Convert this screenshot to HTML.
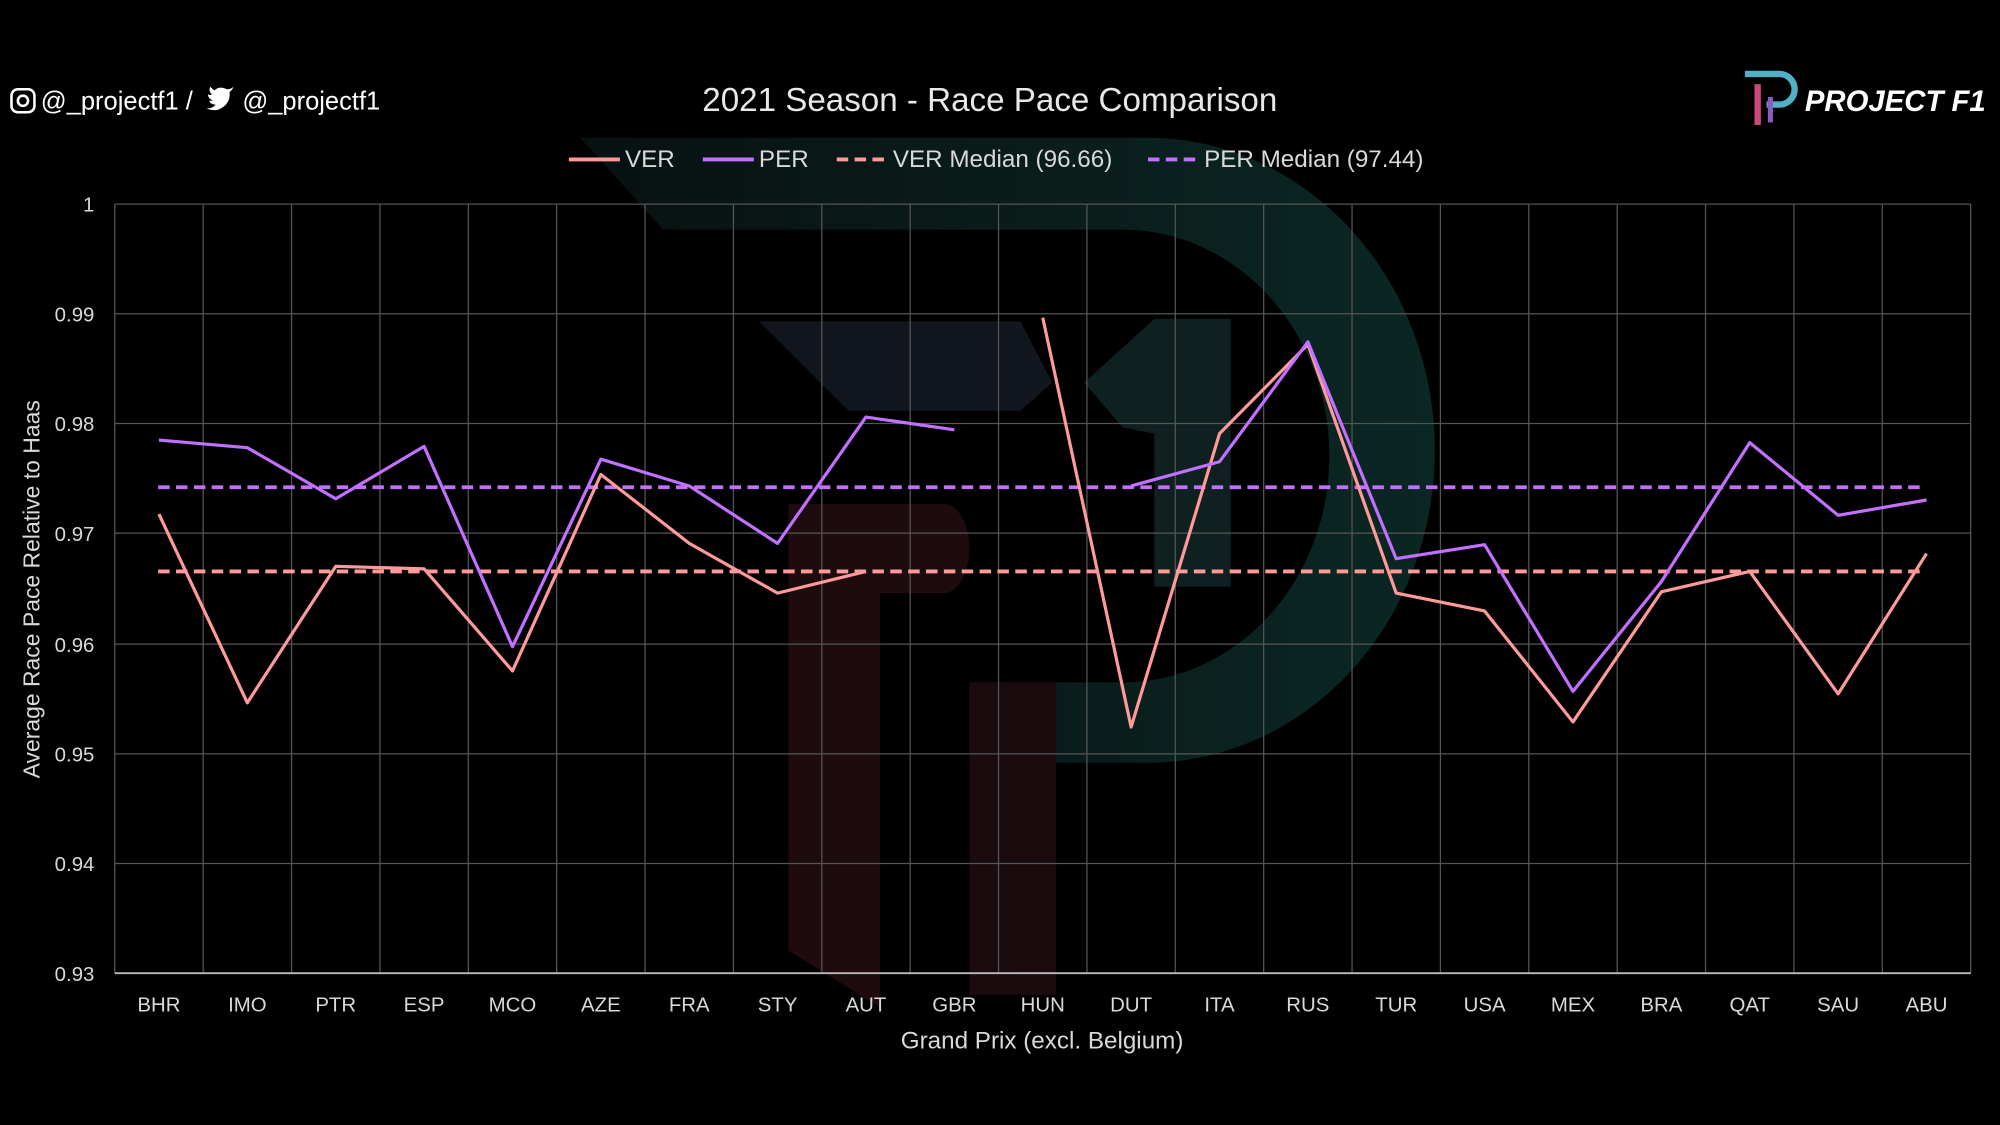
<!DOCTYPE html>
<html><head><meta charset="utf-8"><style>
html,body{margin:0;padding:0;background:#000;}
svg{display:block;}
text{font-family:"Liberation Sans","DejaVu Sans",sans-serif;fill:#d9d9d9;}
</style></head><body>
<svg width="2000" height="1125" viewBox="0 0 1568 882" preserveAspectRatio="none" xmlns="http://www.w3.org/2000/svg">
<defs>
<linearGradient id="dg" x1="0" y1="0" x2="1" y2="0">
<stop offset="0" stop-color="#0a1414"/><stop offset="1" stop-color="#0c2e2a"/>
</linearGradient>
</defs>
<rect width="1568" height="882" fill="#000"/>
<!-- watermark -->
<g opacity="0.85">
<path d="M455 108 L900 108 A225 245 0 0 1 900 598 L760 598 L760 535 L880 535 A160 175 0 0 0 880 180 L520 180 Z" fill="url(#dg)"/>
<path d="M595 252 L800 252 L825 300 L800 322 L665 322 Z" fill="#161b24"/>
<path d="M850 300 L905 250 L965 250 L965 460 L905 460 L905 340 L880 335 Z" fill="#112626"/>
<path d="M618 395 L740 395 A20 35 0 0 1 740 465 L690 465 L690 790 L618 745 Z" fill="#240d11"/>
<path d="M760 535 L828 535 L828 780 L760 780 Z" fill="#1f0e11"/>
</g>
<!-- header -->
<rect x="9" y="70" width="18" height="18" rx="5" fill="none" stroke="#fff" stroke-width="2"/>
<circle cx="18" cy="79" r="4" fill="none" stroke="#fff" stroke-width="2"/>
<text x="32" y="86" font-size="20" style="fill:#fff">@_projectf1 /</text>
<path d="M166 74 q4 -8 12 -4 q3 0 5 -2 q-1 3 -3 4 q1 10 -9 14 q-5 1 -9 -1 q5 0 7 -3 q-4 0 -5 -3 q2 0 3 0 q-4 -2 -4 -5 q2 1 3 0 q-3 -3 -1 -6 q4 5 10 5" fill="#fff"/>
<text x="190" y="86" font-size="20" style="fill:#fff">@_projectf1</text>
<text x="776" y="87" font-size="26" text-anchor="middle" style="fill:#e8e8e8">2021 Season - Race Pace Comparison</text>
<path d="M1368 58 L1395 58 A12 12 0 0 1 1395 82 L1385 82" fill="none" stroke="#4fb0c6" stroke-width="5"/>
<path d="M1378 66 L1378 98" stroke="#c94a7a" stroke-width="5"/>
<path d="M1388 76 L1388 96" stroke="#8a5cc0" stroke-width="4"/>
<text x="1415" y="87" font-size="23" font-weight="bold" font-style="italic" style="fill:#fff">PROJECT F1</text>
<!-- legend -->
<g font-size="19">
<line x1="446" y1="125" x2="486" y2="125" stroke="#ff9a9a" stroke-width="3"/>
<text x="490" y="131">VER</text>
<line x1="551" y1="125" x2="591" y2="125" stroke="#c170ff" stroke-width="3"/>
<text x="595" y="131">PER</text>
<line x1="656" y1="125" x2="696" y2="125" stroke="#ff9a9a" stroke-width="3" stroke-dasharray="9,5"/>
<text x="700" y="131">VER Median (96.66)</text>
<line x1="900" y1="125" x2="940" y2="125" stroke="#c170ff" stroke-width="3" stroke-dasharray="9,5"/>
<text x="944" y="131">PER Median (97.44)</text>
</g>
<!-- grid -->
<g stroke="#555" stroke-width="1">
<line x1="90" y1="160" x2="1545" y2="160"/>
<line x1="90" y1="246" x2="1545" y2="246"/>
<line x1="90" y1="332" x2="1545" y2="332"/>
<line x1="90" y1="418" x2="1545" y2="418"/>
<line x1="90" y1="505" x2="1545" y2="505"/>
<line x1="90" y1="591" x2="1545" y2="591"/>
<line x1="90" y1="677" x2="1545" y2="677"/>
</g>
<g stroke="#555" stroke-width="1" id="vg"></g>
<line x1="90" y1="763" x2="1545" y2="763" stroke="#bbb" stroke-width="1.5"/>
<g font-size="16" text-anchor="end">
<text x="74" y="166">1</text><text x="74" y="252">0.99</text><text x="74" y="338">0.98</text><text x="74" y="424">0.97</text><text x="74" y="511">0.96</text><text x="74" y="597">0.95</text><text x="74" y="683">0.94</text><text x="74" y="769">0.93</text>
</g>
<g font-size="16" text-anchor="middle" id="xl"></g>
<text x="817" y="822" font-size="19" text-anchor="middle">Grand Prix (excl. Belgium)</text>
<text transform="translate(31,462) rotate(-90)" font-size="18" text-anchor="middle">Average Race Pace Relative to Haas</text>
<!-- medians -->
<line x1="124" y1="448" x2="1510" y2="448" stroke="#ff9a9a" stroke-width="3" stroke-dasharray="9,5"/>
<line x1="124" y1="382" x2="1510" y2="382" stroke="#c170ff" stroke-width="3" stroke-dasharray="9,5"/>
<g fill="none" stroke-width="2.5" stroke-linejoin="round" id="series"></g>
</svg>
<script>
var ns="http://www.w3.org/2000/svg";
var labs=["BHR","IMO","PTR","ESP","MCO","AZE","FRA","STY","AUT","GBR","HUN","DUT","ITA","RUS","TUR","USA","MEX","BRA","QAT","SAU","ABU"];
var w=1455/21;
var vg=document.getElementById("vg"),xl=document.getElementById("xl");
for(var i=1;i<=21;i++){var l=document.createElementNS(ns,"line");var x=90+i*w;l.setAttribute("x1",x);l.setAttribute("x2",x);l.setAttribute("y1",160);l.setAttribute("y2",763);vg.appendChild(l);}
var vl=document.createElementNS(ns,"line");vl.setAttribute("x1",90);vl.setAttribute("x2",90);vl.setAttribute("y1",160);vl.setAttribute("y2",763);vg.appendChild(vl);
labs.forEach(function(s,i){var t=document.createElementNS(ns,"text");t.setAttribute("x",90+w/2+i*w);t.setAttribute("y",793);t.textContent=s;xl.appendChild(t);});
var ver=[403,551,444,446,526,372,426,465,448,null,249,570,340,270,465,479,566,464,448,544,434];
var per=[345,351,391,350,507,360,381,426,327,337,null,381,362,268,438,427,542,456,347,404,392];
var sg=document.getElementById("series");
function draw(d,c){var seg=[];d.forEach(function(y,i){if(y===null){out();return;}seg.push((90+w/2+i*w).toFixed(1)+","+y);});out();
function out(){if(seg.length>1){var p=document.createElementNS(ns,"polyline");p.setAttribute("points",seg.join(" "));p.setAttribute("stroke",c);sg.appendChild(p);}seg=[];}}
draw(ver,"#ff9a9a");draw(per,"#c170ff");
</script>
</body></html>
